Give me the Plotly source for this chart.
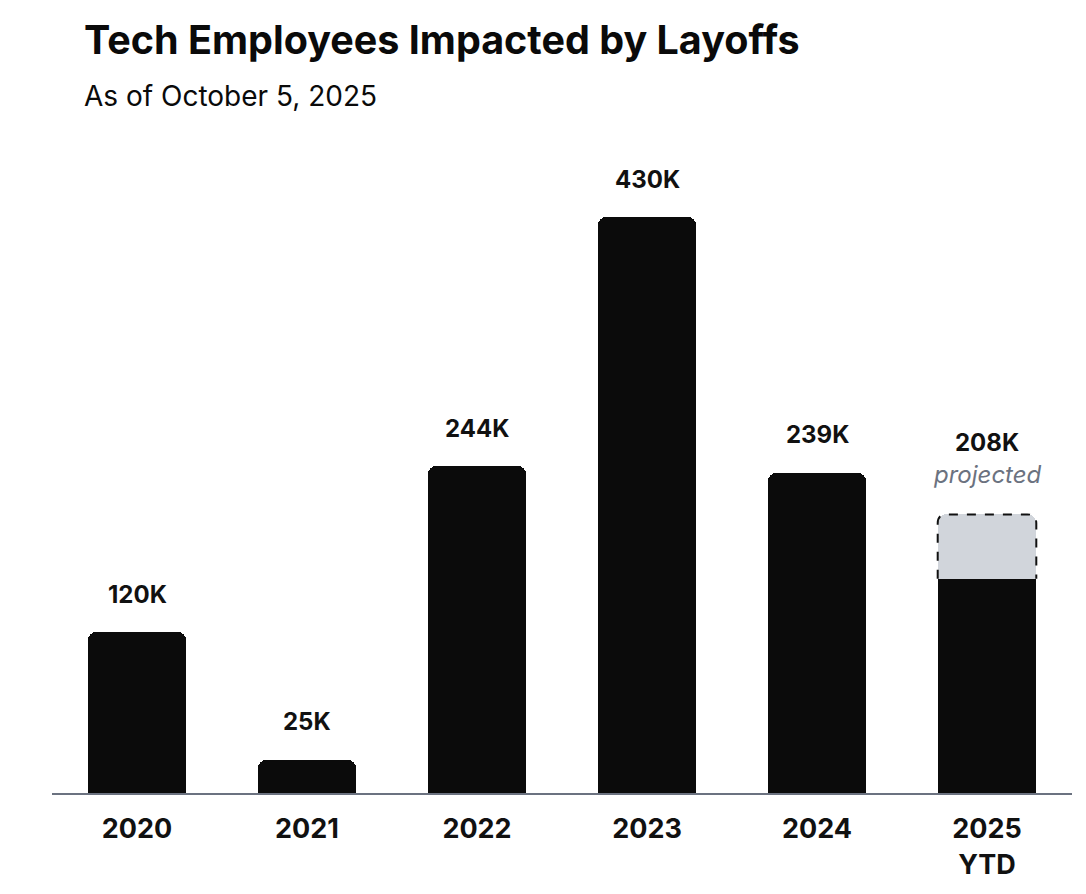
import plotly.graph_objects as go

years = ["2020", "2021", "2022", "2023", "2024", "2025<br>YTD"]
actual = [120, 25, 244, 430, 239, 160]          # thousands
labels = ["120K", "25K", "244K", "430K", "239K", "208K"]
projected_value = 208                             # thousands (2025 projection)
projected_note = "projected"

title = "Tech Employees Impacted by Layoffs"
subtitle = "As of October 5, 2025"

FONT = "Inter, Roboto, sans-serif"
DARK = "#0b0b0b"
GRAY_FILL = "#d1d5db"
AXIS = "#6b7280"

W_PX, H_PX = 1086, 894
OFF = 8  # page body margin
M_L, M_R, M_T, M_B = 52 - OFF, 14 + OFF, 140 - OFF, 101 + OFF
PLOT_H = H_PX - M_T - M_B
PLOT_W = W_PX - M_L - M_R
PX_PER_K = 576 / 430
Y_MAX = PLOT_H / PX_PER_K
PX_PER_X = PLOT_W / 6
BAR_W = 0.58

xs = list(range(len(years)))
last = xs[-1]

fig = go.Figure()

fig.add_trace(go.Bar(
    x=[last], y=[projected_value], width=BAR_W,
    marker=dict(color=GRAY_FILL, line=dict(width=0), cornerradius=9),
    hoverinfo="skip", showlegend=False,
))
fig.add_trace(go.Bar(
    x=xs, y=actual, width=BAR_W,
    marker=dict(color=DARK, line=dict(width=0), cornerradius=8),
    hoverinfo="skip", showlegend=False,
))

rx = 9 / PX_PER_X
ry = 9 / PX_PER_K
x0, x1 = last - BAR_W / 2, last + BAR_W / 2
yb, yt = actual[-1], projected_value
path = (f"M {x0},{yb} L {x0},{yt - ry} Q {x0},{yt} {x0 + rx},{yt} "
        f"L {x1 - rx},{yt} Q {x1},{yt} {x1},{yt - ry} L {x1},{yb}")
fig.add_shape(type="path", path=path, xref="x", yref="y",
              line=dict(color="#111111", width=2, dash="dash"), layer="above")

for i, (lab, v) in enumerate(zip(labels, actual)):
    if i == last:
        fig.add_annotation(x=i, y=projected_value, text=f"<b>{lab}</b>", showarrow=False,
                           yanchor="middle", yshift=72,
                           font=dict(family=FONT, size=24, color="#111111"))
        fig.add_annotation(x=i, y=projected_value, text=f"<i>{projected_note}</i>", showarrow=False,
                           yanchor="middle", yshift=40,
                           font=dict(family=FONT, size=24, color="#6b7280"))
    else:
        fig.add_annotation(x=i, y=v, text=f"<b>{lab}</b>", showarrow=False,
                           yanchor="middle", yshift=38,
                           font=dict(family=FONT, size=24, color="#111111"))

TX = (82 - OFF - M_L) / PLOT_W
fig.add_annotation(xref="paper", yref="paper", x=TX,
                   y=(H_PX - M_B - (40 - OFF)) / PLOT_H, xanchor="left", yanchor="middle",
                   text=f"<b>{title}</b>", showarrow=False,
                   font=dict(family=FONT, size=39.5, color="#0a0a0a"))
fig.add_annotation(xref="paper", yref="paper", x=TX,
                   y=(H_PX - M_B - (96 - OFF)) / PLOT_H, xanchor="left", yanchor="middle",
                   text=subtitle, showarrow=False,
                   font=dict(family=FONT, size=28, color="#0a0a0a"))

fig.update_layout(
    width=W_PX, height=H_PX,
    margin=dict(l=M_L, r=M_R, t=M_T, b=M_B),
    paper_bgcolor="white", plot_bgcolor="white",
    barmode="overlay", bargap=0,
    font=dict(family=FONT),
)
fig.update_xaxes(
    tickmode="array", tickvals=xs, ticktext=[f"<b>{y}</b>" for y in years],
    range=[-0.5, 5.5], showgrid=False, zeroline=False,
    showline=True, linecolor=AXIS, linewidth=2,
    ticks="", ticklabelstandoff=11,
    tickfont=dict(family=FONT, size=27, color="#111111"),
)
fig.update_yaxes(range=[0, Y_MAX], visible=False, showgrid=False, zeroline=False)

fig.write_html("out.html")
